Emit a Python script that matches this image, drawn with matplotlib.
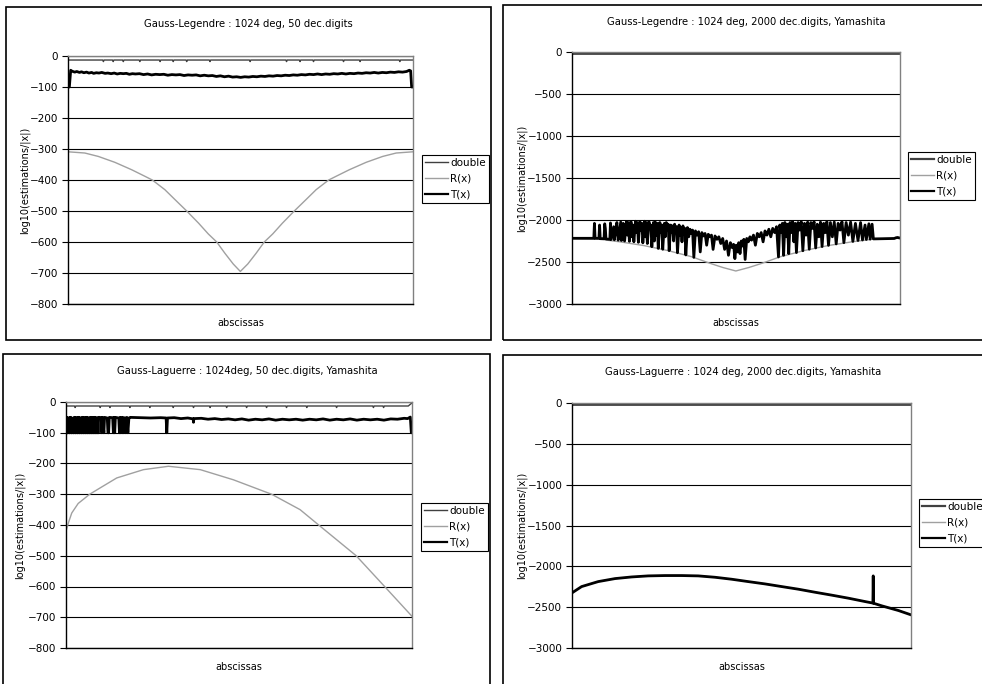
import matplotlib.pyplot as plt
from matplotlib.patches import Rectangle

plt.rcParams['font.family'] = ['DejaVu Sans']
plt.rcParams['path.simplify'] = False

# abscissa node index 0..1023 (1024 nodes)

# Gauss-Legendre, 50 digits
gl50_d_x = [0, 103, 105, 107, 132, 134, 136, 162, 164, 166, 211, 213, 215, 271, 273, 275,
            310, 312, 314, 350, 352, 354, 419, 421, 423, 538, 540, 542, 646, 648, 650,
            686, 688, 690, 726, 728, 730, 815, 817, 819, 864, 866, 868, 982, 984, 986, 1023]
gl50_d = [-13, -13, -18, -13, -13, -18, -13, -13, -18, -13, -13, -18, -13, -13, -18, -13,
          -13, -18, -13, -13, -18, -13, -13, -18, -13, -13, -18, -13, -13, -18, -13,
          -13, -18, -13, -13, -18, -13, -13, -18, -13, -13, -18, -13, -13, -18, -13, -13]
gl50_r_x = [0, 50, 90, 139, 189, 228, 250, 287, 317, 352, 387, 416, 441, 465, 490, 511,
            533, 558, 582, 607, 636, 671, 706, 736, 773, 795, 834, 884, 933, 973, 1023]
gl50_r = [-309, -313, -324, -343, -367, -388, -400, -431, -463, -500, -539, -574, -600, -636, -671, -695,
          -671, -636, -600, -574, -539, -500, -463, -431, -400, -388, -367, -343, -324, -313, -309]
gl50_t_x = [0, 4, 8, 12, 20, 26, 34, 40, 47, 55, 62, 70, 76, 84, 92, 100, 110, 118, 128, 137, 146,
            155, 164, 173, 182, 191, 200, 212, 224, 236, 248, 260, 272, 284, 296, 308, 320, 332,
            344, 356, 368, 380, 392, 404, 416, 428, 440, 452, 464, 476, 488, 500, 512, 524, 536,
            548, 560, 572, 584, 596, 608, 620, 632, 644, 656, 668, 680, 692, 704, 716, 728, 740,
            752, 764, 776, 788, 800, 812, 824, 836, 848, 860, 872, 884, 896, 908, 920, 932, 944,
            956, 968, 980, 992, 1004, 1012, 1016, 1019, 1023]
gl50_t = [-100, -100, -46, -49, -52, -50, -53, -51, -54, -52, -55, -53, -56, -54, -55, -53, -56, -55,
          -57, -55, -58, -56, -57, -56, -59, -57, -58, -57, -60, -58, -61, -59, -60, -59, -62, -60,
          -61, -60, -63, -61, -62, -61, -64, -62, -64, -63, -66, -64, -67, -65, -68, -67, -69, -67,
          -68, -66, -67, -65, -66, -64, -65, -63, -64, -62, -63, -61, -62, -60, -61, -59, -60, -58,
          -60, -58, -59, -57, -58, -56, -58, -56, -57, -55, -56, -54, -55, -53, -55, -53, -54, -52,
          -53, -51, -52, -50, -46, -48, -100, -100]

# Gauss-Legendre, 2000 digits
gl2000_d_x = [0, 1023]
gl2000_d = [-8, -8]
gl2000_r_x = [0, 77, 150, 225, 300, 373, 430, 470, 511, 552, 593, 650, 723, 798, 873, 946, 1010, 1023]
gl2000_r = [-2218, -2225, -2260, -2305, -2365, -2437, -2515, -2565, -2607, -2565, -2515, -2437,
            -2365, -2305, -2260, -2225, -2218, -2210]
gl2000_t_x = [0, 68, 70, 72, 84, 86, 88, 100, 102, 104, 106, 118, 120, 122, 130, 132, 140, 142, 144,
              152, 154, 160, 162, 164, 170, 173, 176, 179, 184, 187, 190, 193, 198, 201, 204, 207,
              212, 215, 218, 221, 226, 229, 232, 235, 240, 243, 246, 249, 254, 257, 260, 263, 266,
              269, 274, 277, 280, 283, 288, 291, 294, 297, 300, 303, 308, 311, 314, 317, 320, 323,
              326, 329, 334, 337, 340, 343, 346, 349, 352, 355, 360, 364, 368, 372, 376, 380, 385,
              390, 395, 400, 405, 410, 415, 420, 425, 430, 435, 440, 446, 452, 458, 464, 470, 476,
              482, 488, 494, 500, 504, 508, 512, 516, 520, 524, 528, 532, 536, 540, 545, 550, 555,
              560, 566, 572, 578, 584, 590, 596, 602, 608, 614, 620, 626, 632, 638, 644, 648, 652,
              656, 660, 664, 668, 672, 676, 680, 684, 688, 692, 696, 700, 705, 710, 715, 720, 725,
              730, 735, 740, 745, 750, 755, 760, 765, 770, 775, 780, 785, 790, 795, 800, 806, 812,
              818, 824, 830, 836, 842, 848, 855, 862, 869, 876, 884, 892, 900, 906, 914, 918, 926,
              930, 936, 940, 1005, 1010, 1015, 1023]
gl2000_t = [-2218, -2218, -2040, -2218, -2218, -2060, -2222, -2222, -2045, -2100, -2226, -2230, -2035,
            -2232, -2080, -2236, -2030, -2150, -2240, -2025, -2244, -2040, -2120, -2250, -2020, -2180,
            -2030, -2254, -2020, -2200, -2060, -2260, -2015, -2150, -2030, -2266, -2020, -2120, -2040,
            -2272, -2015, -2200, -2030, -2280, -2020, -2100, -2060, -2318, -2030, -2250, -2025, -2180,
            -2040, -2338, -2030, -2150, -2060, -2348, -2040, -2200, -2030, -2100, -2050, -2365, -2060,
            -2150, -2070, -2250, -2050, -2120, -2080, -2390, -2060, -2180, -2090, -2260, -2070, -2150,
            -2100, -2416, -2090, -2200, -2110, -2160, -2120, -2445, -2130, -2180, -2140, -2380, -2150,
            -2190, -2160, -2300, -2170, -2200, -2180, -2350, -2190, -2230, -2200, -2280, -2220, -2350,
            -2250, -2420, -2270, -2330, -2290, -2460, -2300, -2380, -2270, -2400, -2250, -2310, -2230,
            -2470, -2220, -2260, -2200, -2240, -2180, -2300, -2160, -2200, -2150, -2260, -2130, -2180,
            -2110, -2200, -2100, -2150, -2080, -2440, -2060, -2150, -2040, -2420, -2030, -2200, -2050,
            -2400, -2030, -2150, -2020, -2260, -2040, -2388, -2030, -2120, -2020, -2366, -2040, -2180,
            -2025, -2348, -2030, -2100, -2020, -2333, -2050, -2200, -2025, -2316, -2040, -2150, -2020,
            -2302, -2030, -2200, -2025, -2285, -2040, -2120, -2020, -2270, -2030, -2180, -2025, -2255,
            -2040, -2244, -2030, -2238, -2060, -2232, -2045, -2228, -2050, -2225, -2220, -2212, -2208,
            -2215]

# Gauss-Laguerre, 50 digits
lag50_d_x = [0, 25, 27, 29, 99, 101, 103, 128, 130, 132, 187, 189, 191, 246, 248, 250, 315, 317, 319,
             375, 377, 379, 424, 426, 428, 473, 475, 477, 532, 534, 536, 591, 593, 595, 650, 652, 654,
             710, 712, 714, 798, 800, 802, 907, 909, 911, 937, 939, 941, 1012, 1023]
lag50_d = [-13, -13, -18, -13, -13, -18, -13, -13, -18, -13, -13, -18, -13, -13, -18, -13, -13, -18, -13,
           -13, -18, -13, -13, -18, -13, -13, -18, -13, -13, -18, -13, -13, -18, -13, -13, -18, -13,
           -13, -18, -13, -13, -18, -13, -13, -18, -13, -13, -18, -13, -13, -3]
lag50_r_x = [0, 8, 17, 36, 70, 100, 150, 229, 303, 397, 495, 608, 692, 746, 858, 942, 1023]
lag50_r = [-420, -390, -361, -330, -300, -280, -247, -220, -209, -220, -253, -300, -350, -399,
           -500, -600, -697]
lag50_t_x = [0, 0, 3, 3, 6, 6, 9, 9, 12, 12, 15, 15, 18, 18, 21, 21, 24, 24, 27, 27, 30, 30, 33, 33,
             36, 36, 39, 39, 42, 42, 45, 45, 48, 48, 51, 51, 54, 54, 57, 57, 60, 60, 63, 63, 66, 66,
             69, 69, 72, 72, 75, 75, 78, 78, 81, 81, 84, 84, 87, 87, 90, 90, 93, 93, 96, 96,
             100, 104, 106, 108, 112, 114, 122, 124, 126, 128,
             138, 140, 142, 144, 146, 156, 158, 160, 162, 164, 166, 168, 171, 174, 177, 180, 183, 186,
             190, 220, 250, 280, 296, 298, 300, 320, 340, 360, 376, 377, 378, 400, 420, 440, 460, 480,
             500, 520, 540, 560, 580, 600, 620, 640, 660, 680, 700, 720, 740, 760, 780, 800, 820, 840,
             860, 880, 900, 920, 940, 960, 980, 1000, 1010, 1018, 1021, 1023]
lag50_t = [-100, -50, -50, -100, -100, -52, -52, -100, -100, -50, -50, -100, -100, -53, -53, -100,
           -100, -50, -50, -100, -100, -51, -51, -100, -100, -50, -50, -100, -100, -52, -52, -100,
           -100, -50, -50, -100, -100, -51, -51, -100, -100, -50, -50, -100, -100, -52, -52, -100,
           -100, -50, -50, -100, -100, -51, -51, -100, -100, -50, -50, -100, -100, -52, -52, -100,
           -100, -50,
           -50, -51, -100, -50, -100, -50, -52, -100, -100, -50,
           -51, -100, -50, -100, -50, -52, -100, -50, -100, -51, -100, -50, -100, -51, -100, -50, -100, -52,
           -50, -51, -52, -51, -52, -100, -52, -51, -54, -52, -55, -66, -54, -53, -56, -54, -57, -55,
           -58, -55, -59, -56, -58, -55, -59, -56, -58, -56, -59, -56, -58, -55, -59, -56, -58, -55,
           -59, -56, -58, -56, -59, -55, -56, -53, -54, -49, -100, -100]

# Gauss-Laguerre, 2000 digits
lag2000_d_x = [0, 1023]
lag2000_d = [-8, -8]
lag2000_r_x = [0, 29, 79, 130, 180, 230, 281, 331, 381, 432, 482, 532, 582, 633, 683, 733, 784,
               834, 884, 909, 935, 985, 1023]
lag2000_r = [-2325, -2248, -2187, -2150, -2130, -2117, -2113, -2113, -2117, -2134, -2158, -2187,
             -2215, -2248, -2280, -2317, -2353, -2390, -2431, -2451, -2484, -2541, -2594]
lag2000_t_x = [0, 29, 79, 130, 180, 230, 281, 331, 381, 432, 482, 532, 582, 633, 683, 733, 784,
               834, 884, 908, 909, 910, 935, 985, 1023]
lag2000_t = [-2325, -2248, -2187, -2150, -2130, -2117, -2113, -2113, -2117, -2134, -2158, -2187,
             -2215, -2248, -2280, -2317, -2353, -2390, -2431, -2450, -2117, -2452, -2484, -2541, -2594]

W, H = 982, 684
fig = plt.figure(figsize=(W / 100, H / 100), dpi=100)


def fx(px):
    return px / W


def fy(py):
    return 1 - py / H


def panel(frame, plot, leg_pos, title, title_x, title_y, ylab_x, ymin, ystep, d, r, t, d_lw):
    l, tp, rr, b = frame
    fig.add_artist(Rectangle((fx(l), fy(b)), (rr - l) / W, (b - tp) / H, transform=fig.transFigure,
                             fill=False, edgecolor='black', lw=1.2))
    pl, pt, pr, pb = plot
    ax = fig.add_axes([fx(pl), fy(pb), (pr - pl) / W, (pb - pt) / H])
    ax.plot(d[0], d[1], color='#404040', lw=d_lw, label='double')
    ax.plot(r[0], r[1], color='#a0a0a0', lw=1, label='R(x)')
    ax.plot(t[0], t[1], color='black', lw=2, label='T(x)')
    ax.set_xlim(0, 1023)
    ax.set_ylim(ymin, 0)
    ax.set_yticks(range(ymin, 1, ystep))
    ax.set_xticks([])
    ax.yaxis.grid(True, color='black', lw=0.8)
    ax.set_axisbelow(True)
    ax.tick_params(axis='y', direction='out', length=4, width=0.8, labelsize=7.5, pad=3)
    ax.spines['left'].set_color('black')
    ax.spines['bottom'].set_color('black')
    ax.spines['top'].set_color('#808080')
    ax.spines['right'].set_color('#808080')
    for s in ax.spines.values():
        s.set_linewidth(1)
    leg = ax.legend(loc='upper left', bbox_to_anchor=(fx(leg_pos[0]), fy(leg_pos[1])),
                    bbox_transform=fig.transFigure, fontsize=7.5, fancybox=False, framealpha=1,
                    edgecolor='black', borderpad=0.3, labelspacing=0.55, handlelength=2.2,
                    handletextpad=0.2, borderaxespad=0)
    leg.get_frame().set_linewidth(0.8)
    for h in leg.get_lines():
        h.set_linewidth(min(h.get_linewidth(), 1.6))
    fig.text(fx(title_x), fy(title_y), title, ha='center', va='center', fontsize=7.2)
    fig.text(fx((pl + pr) / 2), fy(pb + 19), 'abscissas', ha='center', va='center', fontsize=7)
    fig.text(fx(ylab_x), fy((pt + pb) / 2), 'log10(estimations/|x|)', rotation=90,
             ha='center', va='center', fontsize=7)


panel((6, 7, 491, 340), (68, 56, 413, 304), (422, 155), 'Gauss-Legendre : 1024 deg, 50 dec.digits',
      248, 24, 25, -800, 100, (gl50_d_x, gl50_d), (gl50_r_x, gl50_r), (gl50_t_x, gl50_t), 1)
panel((503, 5, 990, 340), (572, 52, 900, 304), (908, 152),
      'Gauss-Legendre : 1024 deg, 2000 dec.digits, Yamashita',
      746, 22, 522, -3000, 500, (gl2000_d_x, gl2000_d), (gl2000_r_x, gl2000_r), (gl2000_t_x, gl2000_t), 2)
panel((3, 354, 490, 690), (66, 402, 412, 648), (421, 503),
      'Gauss-Laguerre : 1024deg, 50 dec.digits, Yamashita',
      247, 371, 20, -800, 100, (lag50_d_x, lag50_d), (lag50_r_x, lag50_r), (lag50_t_x, lag50_t), 1)
panel((503, 355, 990, 690), (572, 403, 911, 648), (919, 499),
      'Gauss-Laguerre : 1024 deg, 2000 dec.digits, Yamashita',
      743, 372, 522, -3000, 500, (lag2000_d_x, lag2000_d), (lag2000_r_x, lag2000_r),
      (lag2000_t_x, lag2000_t), 2)

fig.savefig('out.png', dpi=100)
